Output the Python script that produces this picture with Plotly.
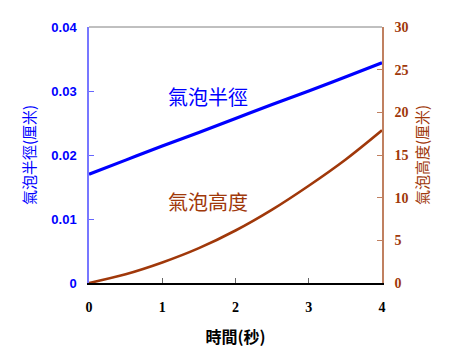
import plotly.graph_objects as go

time_s = [0, 0.5, 1, 1.5, 2, 2.5, 3, 3.5, 4]
radius_cm = [0.0170, 0.0192, 0.0214, 0.0235, 0.0257, 0.0279, 0.0300, 0.0322, 0.0344]
height_cm = [0.0, 1.02, 2.40, 4.08, 6.15, 8.60, 11.40, 14.45, 17.9]

x_ticks = [0, 1, 2, 3, 4]
y1_ticks = [0, 0.01, 0.02, 0.03, 0.04]
y1_labels = ["0", "0.01", "0.02", "0.03", "0.04"]
y2_ticks = [0, 5, 10, 15, 20, 25, 30]

BLUE = "#0000FF"
BROWN = "#A0380A"
CJK = "Noto Sans CJK TC"

fig = go.Figure()
fig.add_trace(go.Scatter(x=time_s, y=radius_cm, mode="lines", line=dict(color=BLUE, width=3.2),
                         line_shape="spline", yaxis="y", showlegend=False))
fig.add_trace(go.Scatter(x=time_s, y=height_cm, mode="lines", line=dict(color=BROWN, width=2.6),
                         line_shape="spline", yaxis="y2", showlegend=False))

fig.update_layout(
    width=450, height=359,
    margin=dict(l=81, r=76, t=15, b=84),
    paper_bgcolor="white", plot_bgcolor="white",
    xaxis=dict(range=[0, 4], tickvals=x_ticks, ticks="inside", ticklen=5, tickcolor="#666666",
               showline=True, linecolor="#000000", linewidth=1.5, showgrid=False, zeroline=False,
               tickfont=dict(family="Liberation Serif", size=14, color="black", weight="bold"),
               ticklabelstandoff=10,
               title=dict(text="時間(秒)", font=dict(family=CJK, size=16, color="black", weight="bold"),
                          standoff=18)),
    yaxis=dict(range=[0, 0.04], tickvals=y1_ticks, ticktext=y1_labels, ticks="inside", ticklen=5,
               tickcolor="#6666FF", showline=True, linecolor="#7777FF", linewidth=1.5,
               showgrid=False, zeroline=False, ticklabelstandoff=8,
               tickfont=dict(family="Liberation Sans", size=13, color=BLUE, weight="bold"),
               title=dict(text="氣泡半徑(厘米)", font=dict(family=CJK, size=15, color=BLUE), standoff=12)),
    yaxis2=dict(range=[0, 30], tickvals=y2_ticks, overlaying="y", side="right", ticks="inside",
                ticklen=5, tickcolor="#C08060", showline=True, linecolor="#C08060", linewidth=1.5,
                showgrid=False, zeroline=False, ticklabelstandoff=8,
                tickfont=dict(family="Liberation Serif", size=14, color=BROWN, weight="bold"),
                title=dict(text="氣泡高度(厘米)", font=dict(family=CJK, size=15, color=BROWN), standoff=10)),
    shapes=[dict(type="line", xref="paper", yref="paper", x0=0, x1=1, y0=1, y1=1,
                 line=dict(color="#808080", width=1))],
    annotations=[
        dict(text="氣泡半徑", x=1.62, y=0.0292, xref="x", yref="y", showarrow=False,
             font=dict(family=CJK, size=20, color=BLUE)),
        dict(text="氣泡高度", x=1.62, y=0.0127, xref="x", yref="y", showarrow=False,
             font=dict(family=CJK, size=20, color=BROWN)),
    ],
)

fig.write_html("out.html")
